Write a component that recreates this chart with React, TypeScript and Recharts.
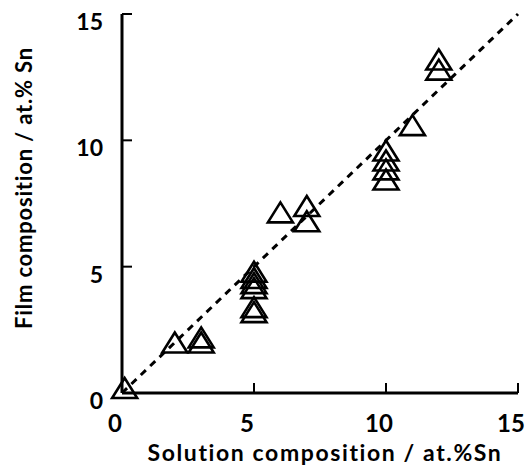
import { ScatterChart, Scatter, XAxis, YAxis, ReferenceLine, Label } from 'recharts';

// solution composition (at.% Sn) vs film composition (at.% Sn)
const solutionSn = [0.1, 2, 3, 3, 5, 5, 5, 5, 5, 5, 6, 7, 7, 10, 10, 10, 10, 11, 12, 12];
const filmSn = [0.2, 2, 2.2, 2.0, 4.8, 4.55, 4.35, 4.15, 3.4, 3.2, 7.15, 7.4, 6.8, 9.6, 9.2, 8.85, 8.45, 10.6, 13.2, 12.8];
const axisTicks = [0, 5, 10, 15];
const parityLine = [
  { x: 0, y: 0 },
  { x: 15, y: 15 },
];

const data = solutionSn.map((x, i) => ({ x, y: filmSn[i] }));

const FONT = 'Lato, "DejaVu Sans", sans-serif';

function Triangle(props: any) {
  const { cx, cy } = props;
  const w = 12.5;
  const h = 10;
  return (
    <polygon
      points={`${cx},${cy - h} ${cx + w},${cy + h} ${cx - w},${cy + h}`}
      fill="none"
      stroke="#000"
      strokeWidth={2.6}
      strokeLinejoin="miter"
    />
  );
}

function XTick(props: any) {
  const { x, y, payload } = props;
  return (
    <text x={x - 7} y={y + 47} textAnchor="middle" fontFamily={FONT} fontWeight={700} fontSize={24} fill="#000">
      {payload.value}
    </text>
  );
}

function YTick(props: any) {
  const { x, y, payload } = props;
  return (
    <text x={x - 27} y={y + 16} textAnchor="end" fontFamily={FONT} fontWeight={700} fontSize={23} fill="#000">
      {payload.value}
    </text>
  );
}

export default function App() {
  return (
    <div style={{ position: 'absolute', left: 0, top: 0, background: '#fff' }}>
      <ScatterChart width={528} height={471} margin={{ top: 14, right: 10, bottom: 0, left: 0 }}>
        <XAxis
          type="number"
          dataKey="x"
          domain={[0, 15]}
          ticks={axisTicks}
          height={78}
          tickSize={-10}
          tick={<XTick />}
          axisLine={{ stroke: '#000', strokeWidth: 3 }}
          tickLine={{ stroke: '#000', strokeWidth: 2 }}
        >
          <Label
            content={() => (
              <text x={325} y={461} textAnchor="middle" fontFamily={FONT} fontWeight={700} fontSize={23} letterSpacing={1.6} fill="#000">
                Solution composition / at.%Sn
              </text>
            )}
          />
        </XAxis>
        <XAxis xAxisId="top" orientation="top" type="number" domain={[0, 15]} height={0} tick={false} tickLine={false} axisLine={{ stroke: '#000', strokeWidth: 3 }} />
        <YAxis
          type="number"
          dataKey="y"
          domain={[0, 15]}
          ticks={axisTicks}
          width={122}
          tickSize={-10}
          tick={<YTick />}
          axisLine={{ stroke: '#000', strokeWidth: 3 }}
          tickLine={{ stroke: '#000', strokeWidth: 2 }}
        >
          <Label
            content={() => (
              <text x={32} y={188} transform="rotate(-90 32 188)" textAnchor="middle" fontFamily={FONT} fontWeight={700} fontSize={22} letterSpacing={0.8} fill="#000">
                Film composition / at.% Sn
              </text>
            )}
          />
        </YAxis>
        <YAxis yAxisId="right" orientation="right" type="number" domain={[0, 15]} width={0} tick={false} tickLine={false} axisLine={{ stroke: '#000', strokeWidth: 3 }} />
        <ReferenceLine segment={parityLine} stroke="#000" strokeWidth={3} strokeDasharray="7 6" />
        <Scatter data={data} shape={<Triangle />} isAnimationActive={false} />
      </ScatterChart>
    </div>
  );
}
